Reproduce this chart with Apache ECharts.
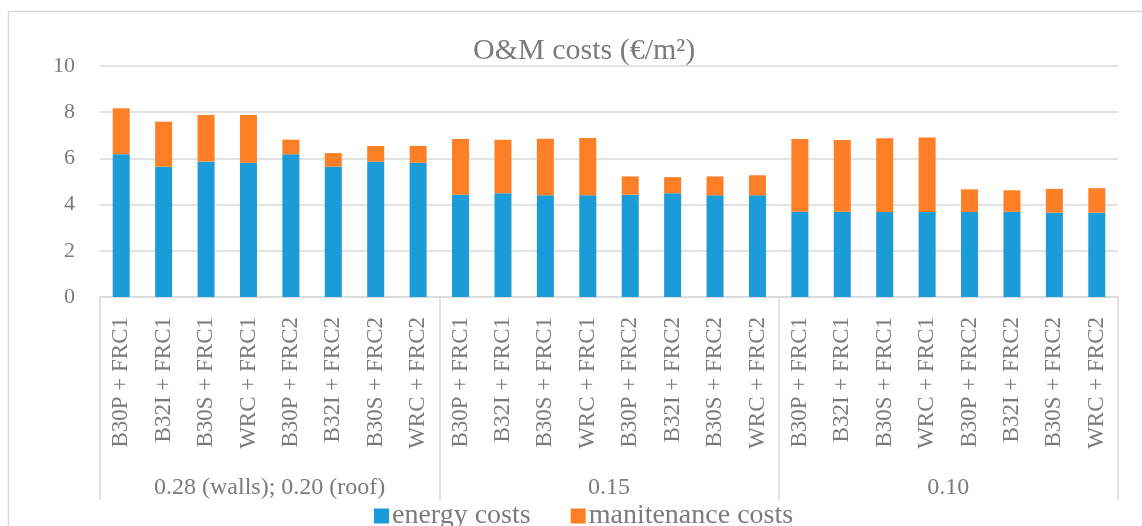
<!DOCTYPE html>
<html>
<head>
<meta charset="utf-8">
<script src="https://cdn.jsdelivr.net/npm/echarts@6/dist/echarts.min.js"></script>
<style>
html,body{margin:0;padding:0;background:#fff;}
#chart{width:1142px;height:526px;}
</style>
</head>
<body>
<div id="chart"></div>
<script>
var categories = [
  'B30P + FRC1','B32I + FRC1','B30S + FRC1','WRC + FRC1','B30P + FRC2','B32I + FRC2','B30S + FRC2','WRC + FRC2',
  'B30P + FRC1','B32I + FRC1','B30S + FRC1','WRC + FRC1','B30P + FRC2','B32I + FRC2','B30S + FRC2','WRC + FRC2',
  'B30P + FRC1','B32I + FRC1','B30S + FRC1','WRC + FRC1','B30P + FRC2','B32I + FRC2','B30S + FRC2','WRC + FRC2'
];
var groups = ['0.28 (walls); 0.20 (roof)', '0.15', '0.10'];
var energyCosts = [6.18,5.64,5.86,5.81,6.18,5.64,5.86,5.81, 4.43,4.49,4.40,4.40,4.43,4.49,4.40,4.40, 3.69,3.69,3.68,3.68,3.68,3.69,3.65,3.65];
var maintenanceCosts = [1.99,1.95,2.02,2.07,0.63,0.59,0.68,0.73, 2.41,2.32,2.45,2.48,0.79,0.70,0.82,0.87, 3.15,3.11,3.19,3.22,0.98,0.93,1.03,1.06];
var yTicks = {min: 0, max: 10, interval: 2};

var FONT = 'Liberation Serif';
var GRAY = '#7b7b7b';
var LINE = '#d9d9d9';

var chart = echarts.init(document.getElementById('chart'), null, {renderer: 'canvas'});
chart.setOption({
  animation: false,
  backgroundColor: '#fff',
  title: {
    text: 'O&M costs (€/m²)',
    left: 468, top: 31,
    textStyle: {fontFamily: FONT, fontSize: 30, fontWeight: 'normal', color: GRAY}
  },
  graphic: [{
    type: 'rect', silent: true, z: -1,
    shape: {x: 8.5, y: 11.5, width: 1300, height: 700},
    style: {fill: 'none', stroke: LINE, lineWidth: 1.5}
  }],
  legend: {
    left: 369, top: 497,
    itemWidth: 15, itemHeight: 15, itemGap: 40,
    icon: 'rect',
    textStyle: {fontFamily: FONT, fontSize: 28, color: GRAY, padding: [0, 0, 0, -2]},
    data: ['energy costs', 'manitenance costs']
  },
  grid: {left: 100, right: 24, top: 66, bottom: 229, containLabel: false},
  xAxis: [{
    type: 'category',
    data: categories,
    axisLine: {show: true, lineStyle: {color: LINE, width: 1.5}},
    axisTick: {show: false},
    axisLabel: {
      rotate: 90, margin: 20, interval: 0,
      fontFamily: FONT, fontSize: 23, color: GRAY
    }
  }, {
    type: 'category',
    data: groups,
    position: 'bottom',
    axisLine: {show: false},
    axisTick: {show: true, length: 203, lineStyle: {color: LINE, width: 1.5}},
    axisLabel: {margin: 179, interval: 0, fontFamily: FONT, fontSize: 24, color: GRAY},
    splitLine: {show: false}
  }],
  yAxis: {
    type: 'value',
    min: yTicks.min, max: yTicks.max, interval: yTicks.interval,
    axisLine: {show: false},
    axisTick: {show: false},
    axisLabel: {margin: 25, fontFamily: FONT, fontSize: 22, color: GRAY},
    splitLine: {lineStyle: {color: LINE, width: 1.5}}
  },
  series: [{
    name: 'energy costs',
    type: 'bar', stack: 'total',
    barWidth: 17,
    itemStyle: {color: '#1b9bd7'},
    data: energyCosts
  }, {
    name: 'manitenance costs',
    type: 'bar', stack: 'total',
    barWidth: 17,
    itemStyle: {color: '#fe7f25'},
    data: maintenanceCosts
  }]
});
</script>
</body>
</html>
